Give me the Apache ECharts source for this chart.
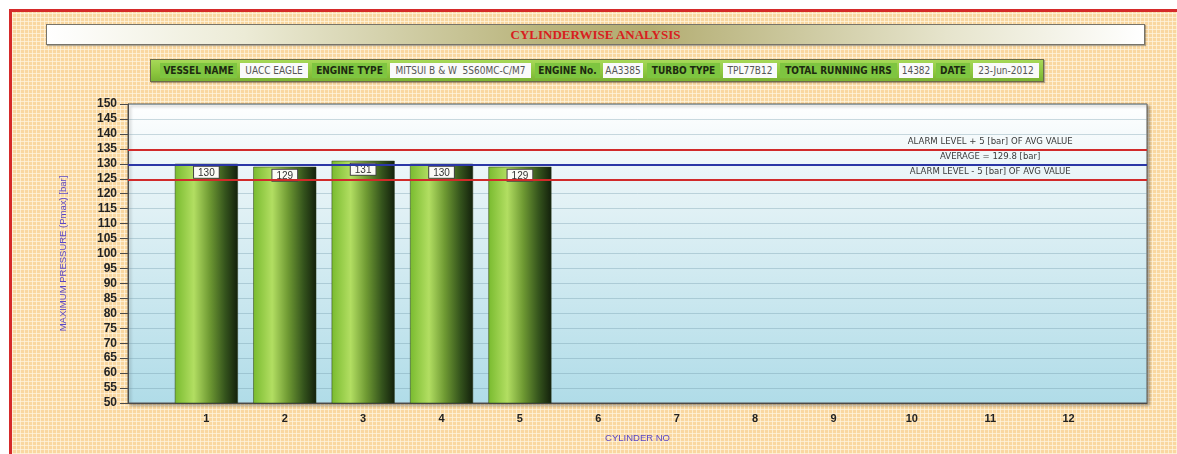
<!DOCTYPE html>
<html>
<head>
<meta charset="utf-8">
<script src="https://cdn.jsdelivr.net/npm/echarts@6/dist/echarts.min.js"></script>
<style>
  html, body { margin: 0; padding: 0; background: #fff; }
  body { width: 1177px; height: 454px; position: relative; overflow: hidden; }
  .frame {
    position: absolute; left: 9px; top: 9px; right: 0; bottom: 0;
    border-top: 3px solid #d52a2a; border-left: 3px solid #d52a2a;
    background-color: #f9d7a0;
    background-image:
      repeating-linear-gradient(0deg, rgba(255,246,226,0.7) 0 1px, transparent 1px 4px),
      repeating-linear-gradient(90deg, rgba(255,246,226,0.7) 0 1px, transparent 1px 4px);
  }
  .titlebar {
    position: absolute; left: 46px; top: 24px; width: 1097px; height: 19px;
    border: 1px solid #77746a; box-shadow: 1px 1px 1px rgba(0,0,0,0.3);
    background: linear-gradient(90deg, #ffffff 0%, #ecebd6 18%, #b9b47c 45%, #b3ad72 55%, #e6e4cc 82%, #ffffff 100%);
    text-align: center; font: bold 13px "Liberation Serif", serif; color: #d8201e; line-height: 19px;
  }
  .infobar {
    position: absolute; left: 150px; top: 59px; width: 892px; height: 21px;
    border: 1px solid #6b6b4a; box-shadow: 1px 1px 1px rgba(0,0,0,0.3);
    background: linear-gradient(180deg, #a7d858 0%, #8cc63e 60%, #7ab333 100%);
  }
  .infobar span {
    position: absolute; top: 3px; height: 15px; line-height: 15px; text-align: center;
    font-family: "Liberation Sans Narrow", "DejaVu Sans Condensed", sans-serif; font-size: 10px; white-space: nowrap;
  }
  .infobar .lbl { font-weight: bold; color: #1d2a10; background: #7ec540; }
  .infobar .val { color: #555; background: #fafafa; }
  #chart { position: absolute; left: 0; top: 0; width: 1177px; height: 454px; }
</style>
</head>
<body>
<div class="frame"></div>
<div class="titlebar">CYLINDERWISE ANALYSIS</div>
<div class="infobar">
  <span class="lbl" style="left:9px;width:77px">VESSEL NAME</span>
  <span class="val" style="left:89px;width:68px">UACC EAGLE</span>
  <span class="lbl" style="left:161px;width:75px">ENGINE TYPE</span>
  <span class="val" style="left:239px;width:141px">MITSUI B &amp; W&nbsp; 5S60MC-C/M7</span>
  <span class="lbl" style="left:384px;width:65px">ENGINE No.</span>
  <span class="val" style="left:452px;width:40px">AA3385</span>
  <span class="lbl" style="left:496px;width:73px">TURBO TYPE</span>
  <span class="val" style="left:572px;width:54px">TPL77B12</span>
  <span class="lbl" style="left:629px;width:117px">TOTAL RUNNING HRS</span>
  <span class="val" style="left:748px;width:34px">14382</span>
  <span class="lbl" style="left:785px;width:34px">DATE</span>
  <span class="val" style="left:822px;width:66px">23-Jun-2012</span>
</div>
<div id="chart"></div>
<script>
// 数据
var cylinderLabels = ['1', '2', '3', '4', '5', '6', '7', '8', '9', '10', '11', '12']
var cylinderNos = [1, 2, 3, 4, 5]
var pmaxValues = [130, 129, 131, 130, 129]
var avgPmax = 129.8
var alarmBand = 5
var yMin = 50, yMax = 150, yStep = 5

var alarmHigh = avgPmax + alarmBand
var alarmLow = avgPmax - alarmBand

/**
 * 柱状图
 */
var barCharts = function () {
  var box = document.getElementById('chart')
  var myCharts = echarts.init(box, null, { renderer: 'canvas' })

  var barData = cylinderNos.map(function (c, i) { return [c, pmaxValues[i]] })
  var labelX = 11

  var labelStyle = {
    show: true, position: 'top', distance: 3,
    color: '#3a3a3a', fontSize: 9.5,
    fontFamily: '"Liberation Sans Narrow", "DejaVu Sans Condensed", sans-serif'
  }

  var options = {
    backgroundColor: 'transparent',
    animation: false,
    grid: {
      left: 128, top: 104, width: 1019, height: 299,
      show: true, borderColor: '#5a5a5a', borderWidth: 1,
      shadowColor: 'rgba(0,0,0,0.35)', shadowBlur: 3, shadowOffsetX: 2, shadowOffsetY: 2,
      backgroundColor: new echarts.graphic.LinearGradient(0, 0, 0, 1, [
        { offset: 0, color: '#ffffff' },
        { offset: 0.25, color: '#e8f4f7' },
        { offset: 1, color: '#b0dce8' }
      ])
    },
    xAxis: {
      type: 'value', min: 0, max: cylinderLabels.length + 1, interval: 1,
      name: 'CYLINDER NO', nameLocation: 'middle', nameGap: 30,
      nameTextStyle: { color: '#5b47c6', fontSize: 9.5, fontFamily: '"Liberation Sans Narrow", sans-serif' },
      axisLine: { show: true, lineStyle: { color: '#4a4a4a', width: 1 } },
      axisTick: { show: false },
      splitLine: { show: false },
      axisLabel: {
        margin: 10, color: '#222', fontWeight: 'bold', fontSize: 11,
        fontFamily: '"Liberation Sans", sans-serif',
        formatter: function (v) { return cylinderLabels[v - 1] || '' }
      }
    },
    yAxis: {
      type: 'value', min: yMin, max: yMax, interval: yStep,
      name: 'MAXIMUM PRESSURE (Pmax) [bar]', nameLocation: 'middle', nameGap: 60, nameRotate: 90,
      nameTextStyle: { color: '#5b47c6', fontSize: 9.5, fontFamily: '"Liberation Sans Narrow", sans-serif' },
      axisLine: { show: true, lineStyle: { color: '#4a4a4a', width: 1 } },
      axisTick: { show: true, length: 8, lineStyle: { color: '#4a4a4a' } },
      splitLine: { show: true, lineStyle: { color: 'rgba(110,150,165,0.35)', width: 1 } },
      axisLabel: {
        margin: 11, color: '#222', fontWeight: 'bold', fontSize: 12,
        fontFamily: '"Liberation Sans Narrow", "Liberation Sans", sans-serif'
      }
    },
    series: [{
      type: 'bar',
      barWidth: 63,
      data: barData,
      itemStyle: {
        borderColor: '#2a3a1a', borderWidth: 0.5,
        color: new echarts.graphic.LinearGradient(0, 0, 1, 0, [
          { offset: 0, color: '#79bb2f' },
          { offset: 0.3, color: '#b2de62' },
          { offset: 0.55, color: '#6f9a33' },
          { offset: 0.8, color: '#34531c' },
          { offset: 1, color: '#13200c' }
        ])
      },
      label: {
        show: true, position: 'insideTop', distance: 3,
        backgroundColor: '#fbfbf6', borderColor: '#444', borderWidth: 1,
        padding: [1, 4, 0, 4], color: '#333', fontSize: 10,
        fontFamily: '"Liberation Sans Narrow", sans-serif'
      },
      markLine: {
        silent: true, symbol: 'none', label: { show: false },
        data: [
          { yAxis: alarmHigh, lineStyle: { color: '#d12a2a', width: 2, type: 'solid' } },
          { yAxis: avgPmax, lineStyle: { color: '#2b37a6', width: 2, type: 'solid' } },
          { yAxis: alarmLow, lineStyle: { color: '#d12a2a', width: 2, type: 'solid' } }
        ]
      },
      markPoint: {
        silent: true, symbol: 'circle', symbolSize: 0,
        label: labelStyle,
        data: [
          { coord: [labelX, alarmHigh], label: { formatter: 'ALARM LEVEL + ' + alarmBand + ' [bar] OF AVG VALUE' } },
          { coord: [labelX, avgPmax], label: { formatter: 'AVERAGE = ' + avgPmax + ' [bar]' } },
          { coord: [labelX, alarmLow], label: { formatter: 'ALARM LEVEL - ' + alarmBand + ' [bar] OF AVG VALUE' } }
        ]
      }
    }]
  }
  myCharts.setOption(options)
}

barCharts()
</script>
</body>
</html>
